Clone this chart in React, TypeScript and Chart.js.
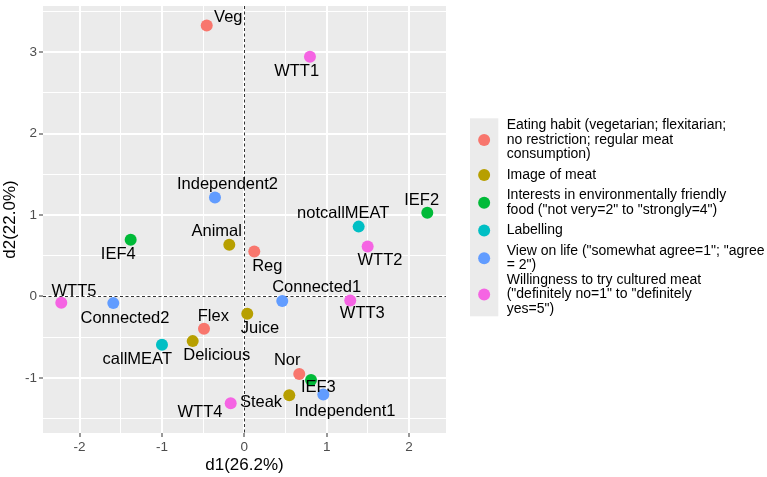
import React, { useEffect, useRef } from "react";
import { Chart, registerables } from "chart.js";

Chart.register(...registerables);

// ---------- data ----------
const pointNames = [
  "Veg", "Flex", "Nor", "Reg",
  "Animal", "Delicious", "Juice", "Steak",
  "IEF2", "IEF3", "IEF4",
  "callMEAT", "notcallMEAT",
  "Connected1", "Connected2", "Independent1", "Independent2",
  "WTT1", "WTT2", "WTT3", "WTT4", "WTT5",
];
const d1Values = [
  -0.456, -0.489, 0.667, 0.121,
  -0.182, -0.626, 0.036, 0.546,
  2.221, 0.81, -1.379,
  -0.999, 1.388,
  0.461, -1.59, 0.959, -0.356,
  0.797, 1.497, 1.286, -0.165, -2.221,
];
const d2Values = [
  3.33, -0.396, -0.952, 0.553,
  0.635, -0.549, -0.212, -1.214,
  1.029, -1.026, 0.696,
  -0.595, 0.858,
  -0.057, -0.082, -1.205, 1.216,
  2.946, 0.614, -0.049, -1.311, -0.078,
];
const pointGroups = [
  0, 0, 0, 0,
  1, 1, 1, 1,
  2, 2, 2,
  3, 3,
  4, 4, 4, 4,
  5, 5, 5, 5, 5,
];
const groupLabelLines = [
  ["Eating habit (vegetarian; flexitarian;", "no restriction; regular meat", "consumption)"],
  ["Image of meat"],
  ["Interests in environmentally friendly", "food (\"not very=2\" to \"strongly=4\")"],
  ["Labelling"],
  ["View on life (\"somewhat agree=1\"; \"agree", "= 2\")"],
  ["Willingness to try cultured meat", "(\"definitely no=1\" to \"definitely", "yes=5\")"],
];
const groupColors = ["#F8766D", "#B79F00", "#00BA38", "#00BFC4", "#619CFF", "#F564E3"];
const xAxisTitle = "d1(26.2%)";
const yAxisTitle = "d2(22.0%)";
const xRange = [-2.443, 2.448];
const yRange = [-1.678, 3.569];

// ---------- layout (label nudges in pixels, legend geometry) ----------
const labelNudge: Record<string, [number, number]> = {
  Veg: [21.6, -7.7], Flex: [9.3, -12.7], Nor: [-12, -13.3], Reg: [13, 15],
  Animal: [-12.6, -13.3], Delicious: [24, 14.7], Juice: [12.7, 14.6], Steak: [-28.3, 7],
  IEF2: [-5.6, -12], IEF3: [7.3, 7.4], IEF4: [-12.4, 14.4],
  callMEAT: [-24.7, 14.3], notcallMEAT: [-15.4, -13.3],
  Connected1: [34.4, -13.3], Connected2: [11.7, 15.3], Independent1: [21.7, 17], Independent2: [12.5, -13],
  WTT1: [-13.3, 14.3], WTT2: [12.3, 14.3], WTT3: [12, 13.4], WTT4: [-30.7, 9], WTT5: [12.7, -11.7],
};

const FONT = "'Liberation Sans', Arial, sans-serif";
const W = 767;
const H = 477;
const PANEL = { left: 43, right: 446, top: 3, bottom: 433 };

const isMajor = (v: number) => Math.abs(v - Math.round(v)) < 1e-6;

const decorPlugin = {
  id: "decor",
  beforeDraw(chart: any) {
    const { ctx, chartArea } = chart;
    ctx.save();
    ctx.fillStyle = "#ffffff";
    ctx.fillRect(0, 0, chart.width, chart.height);
    ctx.fillStyle = "#EBEBEB";
    ctx.fillRect(chartArea.left, chartArea.top, chartArea.right - chartArea.left, chartArea.bottom - chartArea.top);
    ctx.restore();
  },
  beforeDatasetsDraw(chart: any) {
    const { ctx, chartArea, scales } = chart;
    const x0 = scales.x.getPixelForValue(0);
    const y0 = scales.y.getPixelForValue(0);
    ctx.save();
    ctx.strokeStyle = "#333333";
    ctx.lineWidth = 1;
    ctx.setLineDash([3, 2.5]);
    ctx.beginPath();
    ctx.moveTo(Math.round(x0) + 0.5, chartArea.top);
    ctx.lineTo(Math.round(x0) + 0.5, chartArea.bottom);
    ctx.moveTo(chartArea.left, Math.round(y0) + 0.5);
    ctx.lineTo(chartArea.right, Math.round(y0) + 0.5);
    ctx.stroke();
    ctx.restore();
  },
  afterDatasetsDraw(chart: any) {
    const { ctx, scales } = chart;
    ctx.save();
    ctx.font = `16.5px ${FONT}`;
    ctx.fillStyle = "#000000";
    ctx.textAlign = "center";
    ctx.textBaseline = "middle";
    pointNames.forEach((name, i) => {
      const px = scales.x.getPixelForValue(d1Values[i]);
      const py = scales.y.getPixelForValue(d2Values[i]);
      const [dx, dy] = labelNudge[name] || [0, -12];
      ctx.fillText(name, px + dx, py + dy);
    });
    ctx.restore();
  },
  afterDraw(chart: any) {
    const { ctx, chartArea } = chart;
    ctx.save();
    // axis titles
    ctx.fillStyle = "#000000";
    ctx.font = `17px ${FONT}`;
    ctx.textAlign = "center";
    ctx.textBaseline = "middle";
    ctx.fillText(xAxisTitle, (chartArea.left + chartArea.right) / 2, 465);
    ctx.save();
    ctx.translate(10.5, (chartArea.top + chartArea.bottom) / 2);
    ctx.rotate(-Math.PI / 2);
    ctx.fillText(yAxisTitle, 0, 0);
    ctx.restore();

    // legend
    const lineH = 14.5;
    const heights = groupLabelLines.map((l) => Math.max(l.length * lineH, 26.5));
    const total = heights.reduce((a, b) => a + b, 0);
    const top = 118.3;
    const keyX = 470;
    const keyW = 28.3;
    ctx.fillStyle = "#EBEBEB";
    ctx.fillRect(keyX, top, keyW, total);
    let cy = top;
    ctx.font = `14px ${FONT}`;
    ctx.textAlign = "left";
    ctx.textBaseline = "middle";
    groupLabelLines.forEach((lines, g) => {
      const center = cy + heights[g] / 2;
      ctx.fillStyle = groupColors[g];
      ctx.beginPath();
      ctx.arc(keyX + keyW / 2, center, 6, 0, Math.PI * 2);
      ctx.fill();
      ctx.fillStyle = "#000000";
      lines.forEach((ln, k) => {
        const ly = center + (k - (lines.length - 1) / 2) * lineH;
        ctx.fillText(ln, 506.7, ly);
      });
      cy += heights[g];
    });
    ctx.restore();
  },
};

export default function App() {
  const ref = useRef<HTMLCanvasElement | null>(null);

  useEffect(() => {
    const canvas = ref.current;
    if (!canvas) return;
    const datasets = groupColors.map((color, g) => ({
      label: groupLabelLines[g].join(" "),
      data: pointNames
        .map((n, i) => ({ x: d1Values[i], y: d2Values[i], g: pointGroups[i] }))
        .filter((p) => p.g === g)
        .map((p) => ({ x: p.x, y: p.y })),
      backgroundColor: color,
      borderWidth: 0,
      pointRadius: 6,
      pointHoverRadius: 6,
    }));

    const gridOpts = {
      color: "#ffffff",
      lineWidth: (c: any) => (c.tick && isMajor(c.tick.value) ? 2 : 1),
      tickColor: (c: any) => (c.tick && isMajor(c.tick.value) ? "#333333" : "rgba(0,0,0,0)"),
      tickLength: 4,
      tickWidth: 1,
      drawTicks: true,
    };
    const tickOpts = {
      stepSize: 0.5,
      includeBounds: false,
      autoSkip: false,
      maxRotation: 0,
      minRotation: 0,
      color: "#4D4D4D",
      font: { family: FONT, size: 13.5 },
      callback: (v: any) => (isMajor(Number(v)) ? String(Math.round(Number(v))) : ""),
    };
    const zeroPad = (s: any) => {
      s.paddingTop = 0;
      s.paddingBottom = 0;
      s.paddingLeft = 0;
      s.paddingRight = 0;
    };

    const chart = new Chart(canvas, {
      type: "scatter",
      data: { datasets },
      options: {
        responsive: false,
        animation: false,
        events: [],
        layout: { padding: { left: 0, right: W - PANEL.right, top: 1, bottom: 0 } },
        plugins: { legend: { display: false }, tooltip: { enabled: false } },
        scales: {
          x: {
            type: "linear",
            min: xRange[0],
            max: xRange[1],
            grid: gridOpts,
            border: { display: false },
            ticks: { ...tickOpts, padding: 2 },
            afterFit: (s: any) => { s.height = H - PANEL.bottom; zeroPad(s); },
          },
          y: {
            type: "linear",
            min: yRange[0],
            max: yRange[1],
            grid: gridOpts,
            border: { display: false },
            ticks: { ...tickOpts, padding: 2 },
            afterFit: (s: any) => { s.width = PANEL.left; zeroPad(s); },
          },
        },
      } as any,
      plugins: [decorPlugin],
    });
    return () => chart.destroy();
  }, []);

  return (
    <div style={{ position: "absolute", left: 0, top: 0, width: W, height: H, background: "#fff" }}>
      <canvas ref={ref} width={W} height={H} style={{ display: "block" }} />
    </div>
  );
}
